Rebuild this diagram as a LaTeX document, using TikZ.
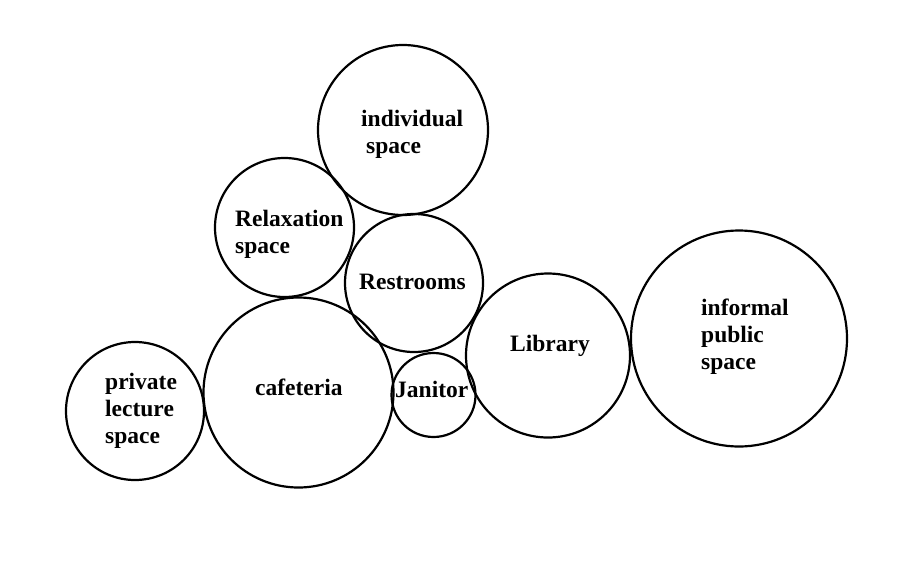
\documentclass[tikz,border=0pt]{standalone}
\usepackage{fontspec}
\setmainfont{Liberation Serif}
\usepackage{tikz}
\tikzset{
    bubble/.style={circle, draw=black, line width=2.2pt, inner sep=0pt},
    tag/.style={font=\bfseries\fontsize{23.5}{27}\selectfont, align=left, anchor=west, inner sep=0pt}
}

\begin{document}
\begin{tikzpicture}[x=1pt,y=-1pt]
\useasboundingbox (0,0) rectangle (915,560);
% bubbles
\node[bubble, minimum size=170pt] (indiv) at (403,130) {};
\node[bubble, minimum size=139pt] (relax) at (284.5,227.5) {};
\node[bubble, minimum size=138pt] (rest) at (414,283) {};
\node[bubble, minimum size=138pt] (lecture) at (135,411) {};
\node[bubble, minimum size=190pt] (cafe) at (298.5,392.5) {};
\node[bubble, minimum size=84pt] (janitor) at (433.5,395) {};
\node[bubble, minimum size=164pt] (library) at (548,355.5) {};
\node[bubble, minimum size=216pt] (informal) at (739,338.5) {};
% labels
\node[tag] (indiv-text) at (361,134.5) {individual\\\hspace*{5pt}space};
\node[tag] (relax-text) at (235,234) {Relaxation\\space};
\node[tag] (rest-text) at (359,281.5) {Restrooms};
\node[tag] (lecture-text) at (105,410.5) {private\\lecture\\space};
\node[tag] (cafe-text) at (255,387.5) {cafeteria};
\node[tag] (janitor-text) at (395,389) {Janitor};
\node[tag] (library-text) at (510,346) {Library};
\node[tag] (informal-text) at (701,336.5) {informal\\public\\space};
\end{tikzpicture}
\end{document}
